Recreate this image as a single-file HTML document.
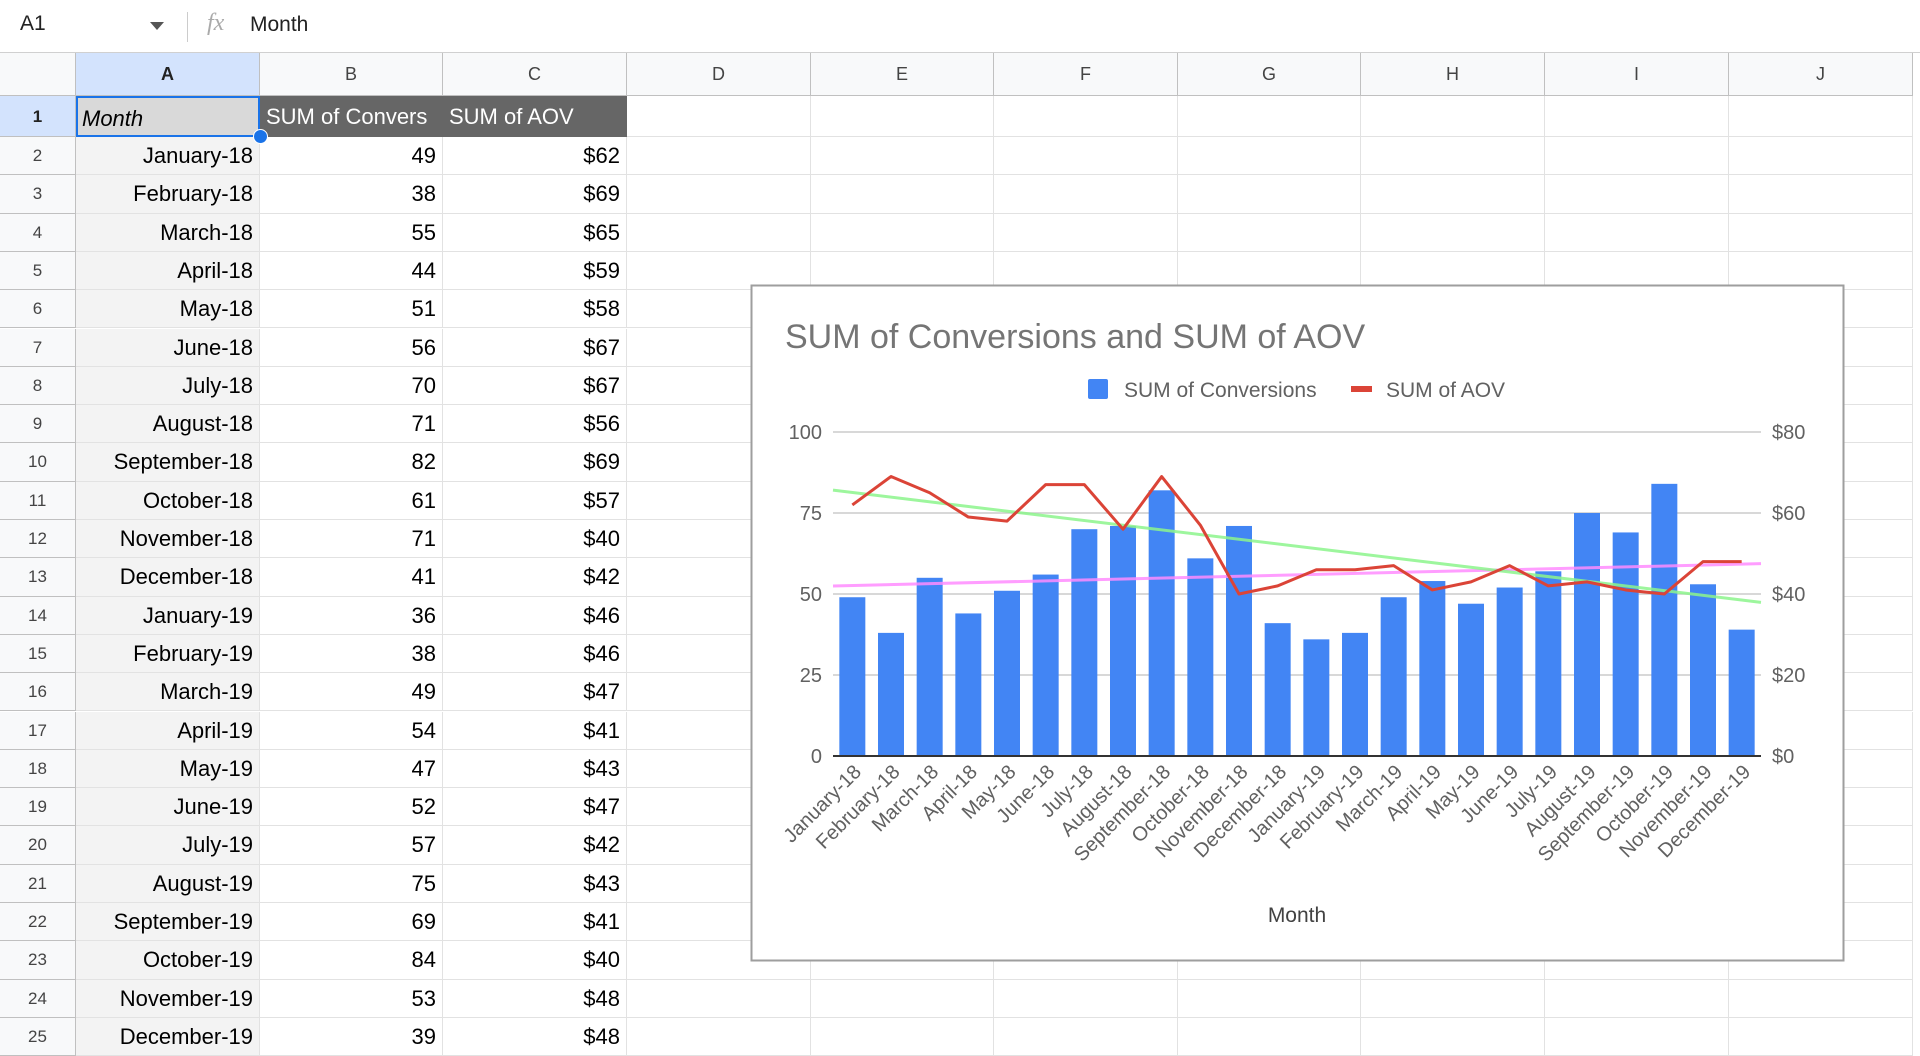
<!DOCTYPE html>
<html><head><meta charset="utf-8">
<style>
body{margin:0;width:1920px;height:1056px;overflow:hidden;background:#fff;font-family:"Liberation Sans",Arial,sans-serif;position:relative}
.abs{position:absolute}
.cell{position:absolute;box-sizing:border-box;border-right:1px solid #e2e2e2;border-bottom:1px solid #e2e2e2;font-size:22px;line-height:38px;white-space:nowrap;overflow:hidden}
.colh{position:absolute;top:53px;height:43px;box-sizing:border-box;border-right:1px solid #c0c0c0;border-bottom:1px solid #c0c0c0;background:#f8f9fa;text-align:center;line-height:43px;font-size:18px;color:#444}
.rowh{position:absolute;left:0;width:76px;box-sizing:border-box;border-right:1px solid #c0c0c0;border-bottom:1px solid #c0c0c0;background:#f8f9fa;text-align:center;font-size:17px;color:#444}
</style></head><body>
<div class="abs" style="left:0;top:0;width:1920px;height:52px;border-bottom:1px solid #d0d0d0;">
 <div class="abs" style="left:20px;top:12px;font-size:21px;color:#222">A1</div>
 <div class="abs" style="left:150px;top:22px;width:0;height:0;border-left:7px solid transparent;border-right:7px solid transparent;border-top:8px solid #555"></div>
 <div class="abs" style="left:187px;top:12px;width:1px;height:30px;background:#ccc"></div>
 <div class="abs" style="left:207px;top:10px;font-size:24px;font-style:italic;color:#aaa;font-family:'Liberation Serif',serif">fx</div>
 <div class="abs" style="left:250px;top:13px;font-size:21px;color:#222">Month</div>
</div>
<div id="grid"></div>
<svg id="chart" class="abs" style="left:0;top:0" width="1920" height="1056"></svg>
<script>
const months=["January-18","February-18","March-18","April-18","May-18","June-18","July-18","August-18","September-18","October-18","November-18","December-18","January-19","February-19","March-19","April-19","May-19","June-19","July-19","August-19","September-19","October-19","November-19","December-19"];
const conversions=[49,38,55,44,51,56,70,71,82,61,71,41,36,38,49,54,47,52,57,75,69,84,53,39];
const aov=[62,69,65,59,58,67,67,56,69,57,40,42,46,46,47,41,43,47,42,43,41,40,48,48];
const leftTicks=[0,25,50,75,100];
const rightTicks=[0,20,40,60,80];

// spreadsheet grid
const grid=document.getElementById('grid');
const colX=[76,260,443,627,811,994,1178,1361,1545,1729,1913];
const letters=["A","B","C","D","E","F","G","H","I","J"];
const corner=document.createElement('div');corner.className='colh';corner.style.left='0px';corner.style.width='76px';corner.style.background='#f8f9fa';


grid.appendChild(corner);
letters.forEach((l,i)=>{const d=document.createElement('div');d.className='colh';d.style.left=colX[i]+'px';d.style.width=(colX[i+1]-colX[i])+'px';d.textContent=l;
if(i===0){d.style.background='#d3e3fd';d.style.fontWeight='bold';d.style.color='#222';}


grid.appendChild(d);});
function rowTop(r){return r===1?96:137+(r-2)*38.3;}
function rowH(r){return r===1?41:38.3;}
for(let r=1;r<=25;r++){
 const h=document.createElement('div');h.className='rowh';h.style.top=rowTop(r)+'px';h.style.height=rowH(r)+'px';h.style.lineHeight=rowH(r)+'px';h.textContent=r;
 if(r===1){h.style.background='#d3e3fd';h.style.fontWeight='bold';h.style.color='#222';}
 
 
 grid.appendChild(h);
 for(let c=0;c<10;c++){
  const d=document.createElement('div');d.className='cell';d.style.left=colX[c]+'px';d.style.width=(colX[c+1]-colX[c])+'px';d.style.top=rowTop(r)+'px';d.style.height=rowH(r)+'px';d.style.lineHeight=rowH(r)+'px';
  let name='cell-'+letters[c].toLowerCase()+r;
  if(r===1){
   if(c===0){d.textContent='Month';d.style.fontStyle='italic';d.style.background='#d9d9d9';d.style.border='2px solid #1a73e8';d.style.paddingLeft='4px';name='header-month';}
   else if(c===1){d.textContent='SUM of Convers';d.style.background='#666';d.style.color='#fff';d.style.paddingLeft='6px';d.style.borderColor='#666';name='header-conversions';}
   else if(c===2){d.textContent='SUM of AOV';d.style.background='#666';d.style.color='#fff';d.style.paddingLeft='6px';d.style.borderColor='#666';name='header-aov';}
  } else {
   const i=r-2;
   if(c===0){d.textContent=months[i];d.style.textAlign='right';d.style.paddingRight='6px';d.style.background='#f3f3f3';}
   else if(c===1){d.textContent=conversions[i];d.style.textAlign='right';d.style.paddingRight='6px';}
   else if(c===2){d.textContent='$'+aov[i];d.style.textAlign='right';d.style.paddingRight='6px';}
  }
  
  
  grid.appendChild(d);
 }
}
const handle=document.createElement('div');handle.className='abs';handle.style.cssText='left:253px;top:129px;width:13px;height:13px;border-radius:50%;background:#1a73e8;border:1px solid #fff';


grid.appendChild(handle);

// chart
const svg=document.getElementById('chart');const NS='http://www.w3.org/2000/svg';
function el(t,a,txt){const e=document.createElementNS(NS,t);for(const k in a)e.setAttribute(k,a[k]);if(txt!==undefined)e.textContent=txt;svg.appendChild(e);return e;}
const X0=833,X1=1761,Y0=756,Y1=432;
const band=(X1-X0)/months.length;
const xc=i=>X0+band*(i+0.5);
const yL=v=>Y0-(v/100)*(Y0-Y1);
const yR=v=>Y0-(v/80)*(Y0-Y1);
let e;
e=el('rect',{x:751.5,y:285.5,width:1092,height:675,fill:'#fff',stroke:'#9e9e9e','stroke-width':2});


e=el('text',{x:785,y:348,'font-size':34,fill:'#757575','font-family':'Liberation Sans,Arial,sans-serif'},'SUM of Conversions and SUM of AOV');


e=el('rect',{x:1088,y:379,width:20,height:20,rx:2,fill:'#4285f4'});


e=el('text',{x:1124,y:397,'font-size':21,fill:'#616161'},'SUM of Conversions');


e=el('rect',{x:1351,y:386,width:21,height:6,fill:'#db4437'});


e=el('text',{x:1386,y:397,'font-size':21,fill:'#616161'},'SUM of AOV');


leftTicks.forEach((t,i)=>{
 const y=yL(t);
 if(t>0){e=el('line',{x1:X0,x2:X1,y1:y,y2:y,stroke:'#cccccc','stroke-width':1.5});
 
 }
 e=el('text',{x:822,y:y+7,'font-size':20,fill:'#616161','text-anchor':'end'},String(t));
 
 
});
rightTicks.forEach(t=>{
 e=el('text',{x:1772,y:yR(t)+7,'font-size':20,fill:'#616161'},'$'+t);
 
 
});
conversions.forEach((v,i)=>{
 e=el('rect',{x:xc(i)-13,y:yL(v),width:26,height:Y0-yL(v),fill:'#4285f4'});
 
 
});
e=el('line',{x1:X0,x2:X1,y1:Y0,y2:Y0,stroke:'#333','stroke-width':2});


function reg(arr){const n=arr.length;let sx=0,sy=0,sxy=0,sxx=0;arr.forEach((v,i)=>{sx+=i;sy+=v;sxy+=i*v;sxx+=i*i});const b=(n*sxy-sx*sy)/(n*sxx-sx*sx);const a=(sy-b*sx)/n;return[a,b];}
// trendlines
const [ca,cb]=reg(conversions);
const fxi=x=>(x-X0)/band-0.5;
e=el('line',{x1:X0,x2:X1,y1:yL(ca+cb*fxi(X0)),y2:yL(ca+cb*fxi(X1)),stroke:'#ff8cff','stroke-width':3,opacity:0.85});


const [aa,ab]=reg(aov);
e=el('line',{x1:X0,x2:X1,y1:yR(aa+ab*fxi(X0)),y2:yR(aa+ab*fxi(X1)),stroke:'#8cf58c','stroke-width':3,opacity:0.85});


e=el('polyline',{points:aov.map((v,i)=>xc(i)+','+yR(v)).join(' '),fill:'none',stroke:'#db4437','stroke-width':3,'stroke-linejoin':'round'});


months.forEach((m,i)=>{
 const x=xc(i)+10,y=773;
 e=el('text',{x:x,y:y,'font-size':20,fill:'#616161','text-anchor':'end',transform:'rotate(-45 '+x+' '+y+')'},m);
 
 
});
e=el('text',{x:1297,y:922,'font-size':21,fill:'#424242','text-anchor':'middle'},'Month');


</script>
</body></html>
